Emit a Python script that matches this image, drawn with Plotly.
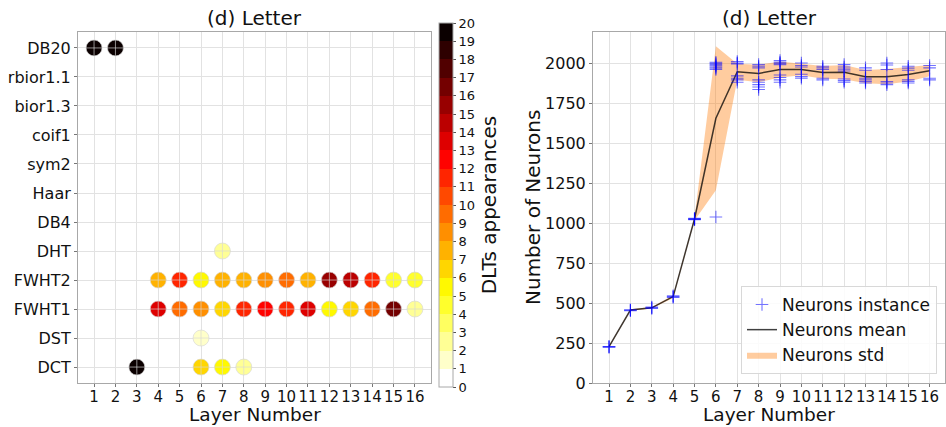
import plotly.graph_objects as go

# ---------------- data: left panel (DLT appearances per layer) ----------------
layers = list(range(1, 17))
dlt_types = ["DCT", "DST", "FWHT1", "FWHT2", "DHT", "DB4", "Haar",
             "sym2", "coif1", "bior1.3", "rbior1.1", "DB20"]  # bottom -> top

cnt_DB20 = [20, 20, 0, 0, 0, 0, 0, 0, 0, 0, 0, 0, 0, 0, 0, 0]
cnt_DHT = [0, 0, 0, 0, 0, 0, 2, 0, 0, 0, 0, 0, 0, 0, 0, 0]
cnt_FWHT2 = [0, 0, 0, 7, 11, 5, 7, 7, 8, 9, 7, 15, 14, 11, 4, 4]
cnt_FWHT1 = [0, 0, 0, 13, 9, 8, 6, 11, 12, 11, 13, 5, 6, 9, 16, 2]
cnt_DST = [0, 0, 0, 0, 0, 1, 0, 0, 0, 0, 0, 0, 0, 0, 0, 0]
cnt_DCT = [0, 0, 20, 0, 0, 6, 5, 2, 0, 0, 0, 0, 0, 0, 0, 0]

counts_by_type = {"DB20": cnt_DB20, "DHT": cnt_DHT, "FWHT2": cnt_FWHT2,
                  "FWHT1": cnt_FWHT1, "DST": cnt_DST, "DCT": cnt_DCT}

# ---------------- data: right panel (neurons per layer) ----------------
neurons_mean = [227, 456, 470, 540, 1025, 1655, 1946, 1935, 1960, 1960,
                1941, 1943, 1915, 1915, 1929, 1952]
neurons_std = [5, 5, 5, 8, 10, 450, 50, 55, 50, 37, 40, 45, 42, 47, 45, 35]
neurons_instances = [
    [224, 226, 228],
    [452, 455, 458],
    [466, 470, 474],
    [535, 540, 545],
    [1020, 1023, 1025, 1027, 1030],
    [1038, 1960, 1968, 1975, 1983, 1990, 1998, 2005],
    [2010, 2000, 1995, 1920, 1905, 1895, 1880],
    [1990, 1980, 1970, 1895, 1880, 1865, 1850, 1835],
    [2015, 2005, 1998, 1990, 1925, 1910, 1895, 1880],
    [2000, 1985, 1975, 1930, 1915, 1905],
    [1980, 1970, 1960, 1905, 1895],
    [1990, 1975, 1962, 1950, 1900, 1890, 1880],
    [1970, 1955, 1905, 1895, 1885, 1875],
    [2000, 1988, 1960, 1885, 1875, 1865],
    [1980, 1968, 1955, 1895, 1885, 1875],
    [1985, 1970, 1905, 1895],
]

# ---------------- styling ----------------
# 20-step reversed "hot" palette
hot_r_20 = ["#ffffff", "#ffffca", "#ffff95", "#ffff60", "#ffff2c", "#fff900",
            "#ffd600", "#ffb200", "#ff8f00", "#ff6c00", "#ff4900", "#ff2500",
            "#ff0200", "#de0000", "#bb0000", "#980000", "#740000", "#510000",
            "#2e0000", "#0b0000"]
colorscale = []
n = len(hot_r_20)
for i, c in enumerate(hot_r_20):
    colorscale.append([i / n, c])
    colorscale.append([(i + 1) / n - (1e-6 if i < n - 1 else 0), c])

FONT = "DejaVu Sans"
TXT = "#111111"
GRID = "#e2e2e2"
FRAME = "#a8a8a8"

# build point lists for the left panel
px, py, pc = [], [], []
for t in dlt_types:
    if t in counts_by_type:
        for L, v in zip(layers, counts_by_type[t]):
            if v > 0:
                px.append(L)
                py.append(t)
                pc.append(v)

fig = go.Figure()

fig.add_trace(go.Scatter(
    x=px, y=py, mode="markers", showlegend=False, xaxis="x", yaxis="y",
    marker=dict(
        size=16, symbol="circle-cross", color=pc, cmin=0, cmax=20,
        colorscale=colorscale,
        line=dict(width=1, color="rgba(215,215,215,0.65)"),
        colorbar=dict(
            thickness=14, len=364 / 427, lenmode="fraction",
            x=439 / 946, xanchor="left", y=1 - 205 / 427, yanchor="middle",
            xpad=0, ypad=0, outlinewidth=1, outlinecolor=FRAME,
            tickmode="array", tickvals=list(range(0, 21)),
            ticks="outside", ticklen=3, tickcolor="#555",
            tickfont=dict(family=FONT, size=13, color=TXT),
            title=dict(text="DLTs appearances", side="right",
                       font=dict(family=FONT, size=20, color=TXT)),
        ),
    ),
))

# right panel: std band
lower = [m - s for m, s in zip(neurons_mean, neurons_std)]
upper = [m + s for m, s in zip(neurons_mean, neurons_std)]
fig.add_trace(go.Scatter(x=layers, y=lower, mode="lines", line=dict(width=0),
                         showlegend=False, hoverinfo="skip",
                         xaxis="x2", yaxis="y2"))
fig.add_trace(go.Scatter(x=layers, y=upper, mode="lines", line=dict(width=0),
                         fill="tonexty", fillcolor="rgba(255,127,14,0.4)",
                         name="Neurons std", legendrank=3,
                         xaxis="x2", yaxis="y2"))
fig.add_trace(go.Scatter(x=layers, y=neurons_mean, mode="lines",
                         line=dict(color="rgba(0,0,0,0.75)", width=1.5),
                         name="Neurons mean", legendrank=2,
                         xaxis="x2", yaxis="y2"))

ix, iy = [], []
for L, vals in zip(layers, neurons_instances):
    for v in vals:
        ix.append(L)
        iy.append(v)
fig.add_trace(go.Scatter(x=ix, y=iy, mode="markers", name="Neurons instance",
                         legendrank=1,
                         marker=dict(symbol="cross-thin", size=9,
                                     line=dict(width=1.1,
                                               color="rgba(0,0,255,0.55)")),
                         xaxis="x2", yaxis="y2"))

axis_common = dict(
    showgrid=True, gridcolor=GRID, gridwidth=1,
    showline=True, mirror=True, linecolor=FRAME, linewidth=1,
    automargin=False, zeroline=False,
)
# x axes: labels close to the frame, short tick marks drawn as minor ticks
x_common = dict(
    tickmode="array", tickvals=layers, tickangle=0, ticks="",
    tickfont=dict(family=FONT, size=15, color=TXT),
    minor=dict(ticks="outside", ticklen=3, tickcolor="#777",
               tick0=1.0001, dtick=1, showgrid=False),
    **axis_common,
)
y_common = dict(ticks="outside", ticklen=3, tickcolor="#777",
                tickfont=dict(family=FONT, size=16, color=TXT), **axis_common)

def label(text, x, y, angle=0, yanchor="middle", size=20):
    return dict(text=text, x=x, y=y, xref="paper", yref="paper",
                showarrow=False, xanchor="center", yanchor=yanchor,
                textangle=angle, font=dict(family=FONT, size=size, color=TXT))

fig.update_layout(
    width=946, height=427,
    margin=dict(l=0, r=0, t=0, b=0),
    paper_bgcolor="white", plot_bgcolor="white",
    font=dict(family=FONT, color=TXT),
    xaxis=dict(domain=[78 / 946, 431 / 946], range=[0.25, 16.75],
               anchor="y", **x_common),
    yaxis=dict(domain=[1 - 383 / 427, 1 - 32 / 427], type="category",
               categoryorder="array", categoryarray=dlt_types,
               range=[-0.55, 11.55], anchor="x", **y_common),
    xaxis2=dict(domain=[593 / 946, 945 / 946], range=[0.25, 16.72],
                anchor="y2", **x_common),
    yaxis2=dict(domain=[1 - 383 / 427, 1 - 32 / 427], range=[0, 2194],
                dtick=250, tick0=0, anchor="x2", **y_common),
    legend=dict(x=937 / 946, xanchor="right", y=1 - 374 / 427, yanchor="bottom",
                bgcolor="rgba(255,255,255,0.85)", bordercolor="#d8d8d8",
                borderwidth=1, font=dict(family=FONT, size=17, color=TXT),
                traceorder="normal", tracegroupgap=0),
    annotations=[
        label("(d) Letter", (78 + 431) / 2 / 946, 1 - 18 / 427),
        label("(d) Letter", (593 + 945) / 2 / 946, 1 - 18 / 427),
        label("Layer Number", (78 + 431) / 2 / 946, 0, yanchor="bottom",
              size=18.5),
        label("Layer Number", (593 + 945) / 2 / 946, 0, yanchor="bottom",
              size=18.5),
        label("Number of Neurons", 533 / 946, 1 - 208 / 427, -90),
    ],
)

fig.write_html("out.html")
